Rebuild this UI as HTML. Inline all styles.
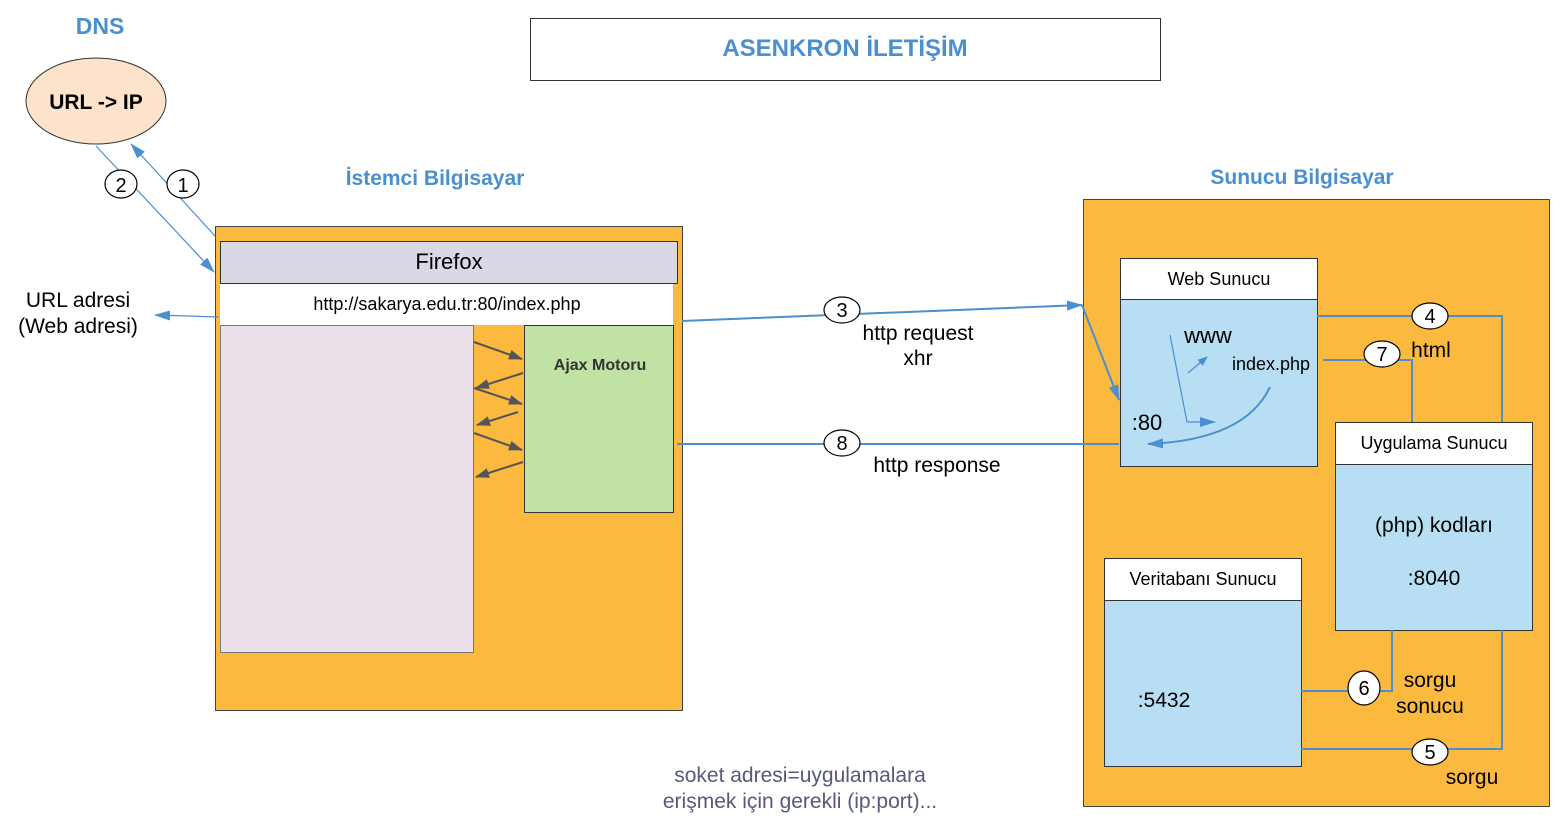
<!DOCTYPE html>
<html><head><meta charset="utf-8"><style>html,body{margin:0;padding:0;background:#fff}svg{display:block}text{font-family:"Liberation Sans",sans-serif}</style></head><body>
<svg width="1560" height="828" viewBox="0 0 1560 828" xmlns="http://www.w3.org/2000/svg">
<defs>
<marker id="b" markerWidth="10" markerHeight="8" refX="9" refY="4" orient="auto" markerUnits="userSpaceOnUse"><path d="M0,0 L10,4 L0,8 z" fill="#4a8fd0"/></marker>
<marker id="bb" markerWidth="16" markerHeight="10" refX="15" refY="5" orient="auto" markerUnits="userSpaceOnUse"><path d="M0,0 L16,5 L0,10 z" fill="#4a8fd0"/></marker>
<marker id="g" markerWidth="14" markerHeight="10" refX="13" refY="5" orient="auto" markerUnits="userSpaceOnUse"><path d="M0,0 L14,5 L0,10 z" fill="#555"/></marker>
</defs>
<text x="100" y="34" font-size="23" font-weight="bold" fill="#4a8fd0" text-anchor="middle">DNS</text>
<ellipse cx="96" cy="101" rx="70" ry="43" fill="#fde3cc" stroke="#333"/>
<text x="96" y="109" font-size="21" font-weight="bold" text-anchor="middle">URL -&gt; IP</text>
<rect x="530.5" y="18.5" width="630" height="62" fill="#fff" stroke="#333"/>
<text x="845" y="56" font-size="24" font-weight="bold" fill="#4a8fd0" text-anchor="middle">ASENKRON İLETİŞİM</text>
<text x="435" y="185" font-size="21" font-weight="bold" fill="#4a8fd0" text-anchor="middle">İstemci Bilgisayar</text>
<text x="1302" y="184" font-size="21" font-weight="bold" fill="#4a8fd0" text-anchor="middle">Sunucu Bilgisayar</text>
<!-- client -->
<rect x="215.5" y="226.5" width="467" height="484" fill="#fbb93f" stroke="#444"/>
<rect x="220.5" y="241.5" width="457" height="42" fill="#d9d8e5" stroke="#333"/>
<text x="449" y="269" font-size="22" text-anchor="middle">Firefox</text>
<rect x="220" y="284" width="453" height="41" fill="#fff"/>
<text x="447" y="310" font-size="18" text-anchor="middle">http://sakarya.edu.tr:80/index.php</text>
<rect x="220.5" y="325.5" width="253" height="327" fill="#ebe0ea" stroke="#777"/>
<rect x="524.5" y="325.5" width="149" height="187" fill="#c1e2a5" stroke="#333"/>
<text x="600" y="370" font-size="16" font-weight="bold" fill="#333" text-anchor="middle">Ajax Motoru</text>
<g stroke="#555" stroke-width="2" marker-end="url(#g)">
<line x1="474" y1="342" x2="522" y2="359"/><line x1="474" y1="388" x2="522" y2="404"/><line x1="474" y1="433" x2="522" y2="450"/>
<line x1="523" y1="373" x2="476" y2="388"/><line x1="518" y1="412" x2="477" y2="425"/><line x1="523" y1="462" x2="476" y2="477"/>
</g>
<!-- DNS lines -->
<g stroke="#4a8fd0" stroke-width="1.2" fill="none">
<line x1="215" y1="236" x2="131" y2="144" marker-end="url(#bb)"/>
<line x1="96" y1="146" x2="214" y2="272" marker-end="url(#bb)"/>
<line x1="219" y1="317" x2="155" y2="315" marker-end="url(#bb)"/>
</g>
<g fill="#fff" stroke="#000" stroke-width="1.2">
<ellipse cx="183" cy="184" rx="16" ry="14"/><ellipse cx="121" cy="184" rx="16" ry="14"/>
</g>
<text x="183" y="192" font-size="20" text-anchor="middle">1</text>
<text x="121" y="192" font-size="20" text-anchor="middle">2</text>
<text x="78" y="307" font-size="21" text-anchor="middle">URL adresi</text>
<text x="78" y="333" font-size="21" text-anchor="middle">(Web adresi)</text>
<!-- server -->
<rect x="1083.5" y="199.5" width="466" height="607" fill="#fbb93f" stroke="#444"/>
<rect x="1120.5" y="258.5" width="197" height="208" fill="#b7def2" stroke="#333"/>
<rect x="1120.5" y="258.5" width="197" height="41" fill="#fff" stroke="#333"/>
<text x="1219" y="285" font-size="18" text-anchor="middle">Web Sunucu</text>
<text x="1208" y="343" font-size="22" text-anchor="middle">www</text>
<text x="1271" y="370" font-size="18" text-anchor="middle">index.php</text>
<text x="1147" y="430" font-size="22" text-anchor="middle">:80</text>
<rect x="1335.5" y="422.5" width="197" height="208" fill="#b7def2" stroke="#333"/>
<rect x="1335.5" y="422.5" width="197" height="42" fill="#fff" stroke="#333"/>
<text x="1434" y="449" font-size="18" text-anchor="middle">Uygulama Sunucu</text>
<text x="1434" y="532" font-size="21" text-anchor="middle">(php) kodları</text>
<text x="1434" y="585" font-size="21" text-anchor="middle">:8040</text>
<rect x="1104.5" y="558.5" width="197" height="208" fill="#b7def2" stroke="#333"/>
<rect x="1104.5" y="558.5" width="197" height="42" fill="#fff" stroke="#333"/>
<text x="1203" y="585" font-size="18" text-anchor="middle">Veritabanı Sunucu</text>
<text x="1164" y="707" font-size="21" text-anchor="middle">:5432</text>
<g stroke="#4a8fd0" stroke-width="2" fill="none">
<polyline points="682,321 1082,305" marker-end="url(#bb)"/>
<line x1="1082" y1="305" x2="1119" y2="400" marker-end="url(#bb)"/>
<line x1="677" y1="444" x2="1119" y2="444"/>
<polyline points="1317,316 1502,316 1502,422"/>
<polyline points="1323,360 1412,360 1412,422"/>
<polyline points="1301,691 1392,691 1392,630"/>
<polyline points="1301,749 1502,749 1502,630"/>
<path d="M1270,387 Q1245,440 1148,444" marker-end="url(#bb)"/>
</g>
<g stroke="#4a8fd0" stroke-width="1.2" fill="none">
<polyline points="1170,335 1187,422 1215,422" marker-end="url(#bb)"/>
<line x1="1188" y1="373" x2="1207" y2="357" marker-end="url(#b)"/>
</g>
<g fill="#fff" stroke="#000" stroke-width="1.2">
<ellipse cx="842" cy="310" rx="18" ry="13"/><ellipse cx="842" cy="443" rx="18" ry="13"/>
<ellipse cx="1430" cy="316" rx="18" ry="13"/><ellipse cx="1382" cy="354" rx="18" ry="13"/>
<ellipse cx="1364" cy="688" rx="16" ry="17"/><ellipse cx="1430" cy="752" rx="18" ry="13"/>
</g>
<g font-size="20" text-anchor="middle">
<text x="842" y="317">3</text><text x="842" y="450">8</text><text x="1430" y="323">4</text>
<text x="1382" y="361">7</text><text x="1364" y="695">6</text><text x="1430" y="759">5</text>
</g>
<g font-size="21" text-anchor="middle">
<text x="918" y="340">http request</text><text x="918" y="365">xhr</text>
<text x="937" y="472">http response</text>
<text x="1431" y="357">html</text>
<text x="1430" y="687">sorgu</text><text x="1430" y="713">sonucu</text>
<text x="1472" y="784">sorgu</text>
</g>
<g font-size="21" fill="#555a7a" text-anchor="middle">
<text x="800" y="782">soket adresi=uygulamalara</text>
<text x="800" y="808">erişmek için gerekli (ip:port)...</text>
</g>
</svg>
</body></html>
